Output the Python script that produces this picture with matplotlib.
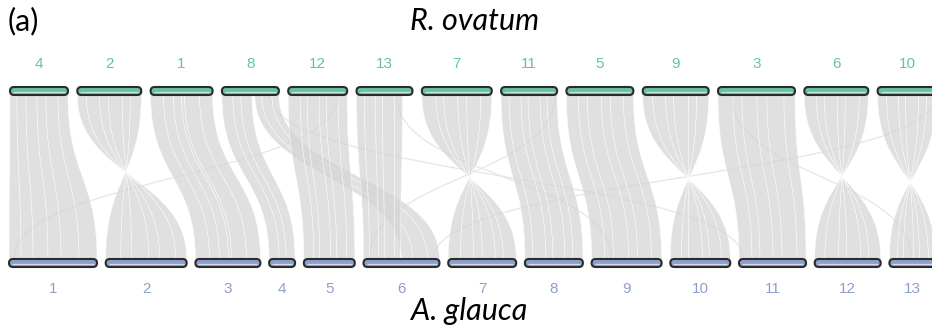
import matplotlib.pyplot as plt
from matplotlib.path import Path
from matplotlib.patches import PathPatch, FancyBboxPatch

# chromosome order and lengths (drawing units)
top_names = ["4", "2", "1", "8", "12", "13", "7", "11", "5", "9", "3", "6", "10"]
top_len = [58, 64, 62, 57, 59, 56, 70, 56, 67, 66, 77, 64, 59]
bot_names = ["1", "2", "3", "4", "5", "6", "7", "8", "9", "10", "11", "12", "13"]
bot_len = [88, 81, 65, 26, 51, 76, 68, 58, 70, 60, 67, 66, 46]

# syntenic blocks: consecutive breakpoints on each side form one ribbon
# (bottom breakpoints running downwards = inverted block)
link_top = ["4", "2", "1", "8", "8", "12", "13", "7", "11", "5", "9", "3", "6", "10"]
link_bot = ["1", "2", "3", "4", "6", "5", "6", "7", "8", "9", "10", "11", "12", "13"]
link_top_bp = [
    [0, 7, 16, 27, 36, 48, 58],
    [0, 9, 22, 31, 45, 53, 64],
    [0, 13, 23, 31, 34, 49, 62],
    [0, 11, 19, 30],
    [33, 40, 50, 57],
    [0, 12, 19, 31, 38, 50, 59],
    [0, 8, 19, 26, 38, 46],
    [0, 14, 22, 36, 45, 59, 70],
    [0, 8, 20, 27, 39, 46, 56],
    [0, 12, 21, 35, 44, 57, 67],
    [0, 10, 23, 31, 46, 54, 66],
    [0, 15, 24, 39, 49, 66, 77],
    [0, 12, 20, 33, 41, 55, 64],
    [0, 9, 21, 28, 41, 49, 59],
]
link_bot_bp = [
    [0, 12, 24, 39, 52, 70, 88],
    [81, 70, 54, 43, 26, 15, 0],
    [0, 14, 24, 33, 36, 51, 65],
    [0, 10, 17, 26],
    [38, 49, 64, 76],
    [0, 10, 16, 27, 33, 43, 51],
    [0, 6, 15, 21, 31, 37],
    [68, 55, 47, 34, 25, 12, 0],
    [0, 8, 21, 28, 40, 48, 58],
    [0, 13, 22, 37, 46, 60, 70],
    [60, 51, 39, 32, 18, 11, 0],
    [0, 13, 21, 34, 43, 58, 67],
    [66, 54, 46, 32, 24, 10, 0],
    [46, 39, 30, 24, 14, 8, 0],
]

# single stray links (top chrom, pos, bottom chrom, pos)
stray_top = ["12", "8", "11", "3", "10", "13"]
stray_top_pos = [50, 48, 54, 14, 58, 40]
stray_bot = ["1", "11", "6", "13", "6", "9"]
stray_bot_pos = [5, 4, 6, 22, 70, 20]

GAP_TOP, GAP_BOT = 9.3, 8.7
Y_TOP, Y_BOT = 91, 263
BAR_H = 8

top_start = {}
x = 10
for n, l in zip(top_names, top_len):
    top_start[n] = x
    x += l + GAP_TOP
bot_start = {}
x = 9
for n, l in zip(bot_names, bot_len):
    bot_start[n] = x
    x += l + GAP_BOT

fig = plt.figure(figsize=(9.32, 3.30), dpi=100)
ax = fig.add_axes([0, 0, 1, 1])
ax.set_xlim(0, 932)
ax.set_ylim(330, 0)
ax.axis("off")

yt = Y_TOP + BAR_H / 2
yb = Y_BOT - BAR_H / 2
ym = (yt + yb) / 2


def ribbon(xa, xb, xc, xd):
    verts = [(xa, yt), (xa, ym), (xc, ym), (xc, yb), (xd, yb),
             (xd, ym), (xb, ym), (xb, yt), (xa, yt)]
    codes = [Path.MOVETO, Path.CURVE4, Path.CURVE4, Path.CURVE4, Path.LINETO,
             Path.CURVE4, Path.CURVE4, Path.CURVE4, Path.CLOSEPOLY]
    return Path(verts, codes)


# stray links first, underneath
for tc, tp, bc, bp in zip(stray_top, stray_top_pos, stray_bot, stray_bot_pos):
    x0 = top_start[tc] + tp
    x1 = bot_start[bc] + bp
    p = Path([(x0, yt), (x0, ym), (x1, ym), (x1, yb)],
             [Path.MOVETO, Path.CURVE4, Path.CURVE4, Path.CURVE4])
    ax.add_patch(PathPatch(p, facecolor="none", edgecolor="#e6e6e6", lw=0.9))

for tc, bc, tbp, bbp in zip(link_top, link_bot, link_top_bp, link_bot_bp):
    for i in range(len(tbp) - 1):
        xa = top_start[tc] + tbp[i]
        xb = top_start[tc] + tbp[i + 1]
        xc = bot_start[bc] + bbp[i]
        xd = bot_start[bc] + bbp[i + 1]
        ax.add_patch(PathPatch(ribbon(xa, xb, xc, xd), facecolor="#d4d4d4",
                               edgecolor="white", lw=0.4, alpha=0.72))


def chrom(x0, length, yc, fill, stripe):
    ax.add_patch(FancyBboxPatch((x0, yc - BAR_H / 2), length, BAR_H,
                                boxstyle="round,pad=0,rounding_size=4",
                                facecolor=fill, edgecolor="#2b2b2b", lw=1.5, zorder=3))
    ax.plot([x0 + 3, x0 + length - 3], [yc + 0.5, yc + 0.5], color=stripe, lw=0.9,
            solid_capstyle="butt", zorder=4)


for n, l in zip(top_names, top_len):
    chrom(top_start[n], l, Y_TOP, "#66c2a5", "#bfe6d6")
    ax.text(top_start[n] + l / 2, 64, n, color="#66c2a5", fontsize=11,
            family="Liberation Sans", ha="center", va="center")
for n, l in zip(bot_names, bot_len):
    chrom(bot_start[n], l, Y_BOT, "#8da0cb", "#d3daec")
    ax.text(bot_start[n] + l / 2, 289, n, color="#8da0cb", fontsize=11,
            family="Liberation Sans", ha="center", va="center")

ax.text(475, 21, "R. ovatum", fontsize=22, style="italic", family="Lato",
        ha="center", va="center", color="black")
ax.text(469, 311, "A. glauca", fontsize=22, style="italic", family="Lato",
        ha="center", va="center", color="black")
ax.text(8, 21, "(a)", fontsize=22, family="Lato", ha="left", va="center", color="black")

fig.savefig("out.png", dpi=100)
